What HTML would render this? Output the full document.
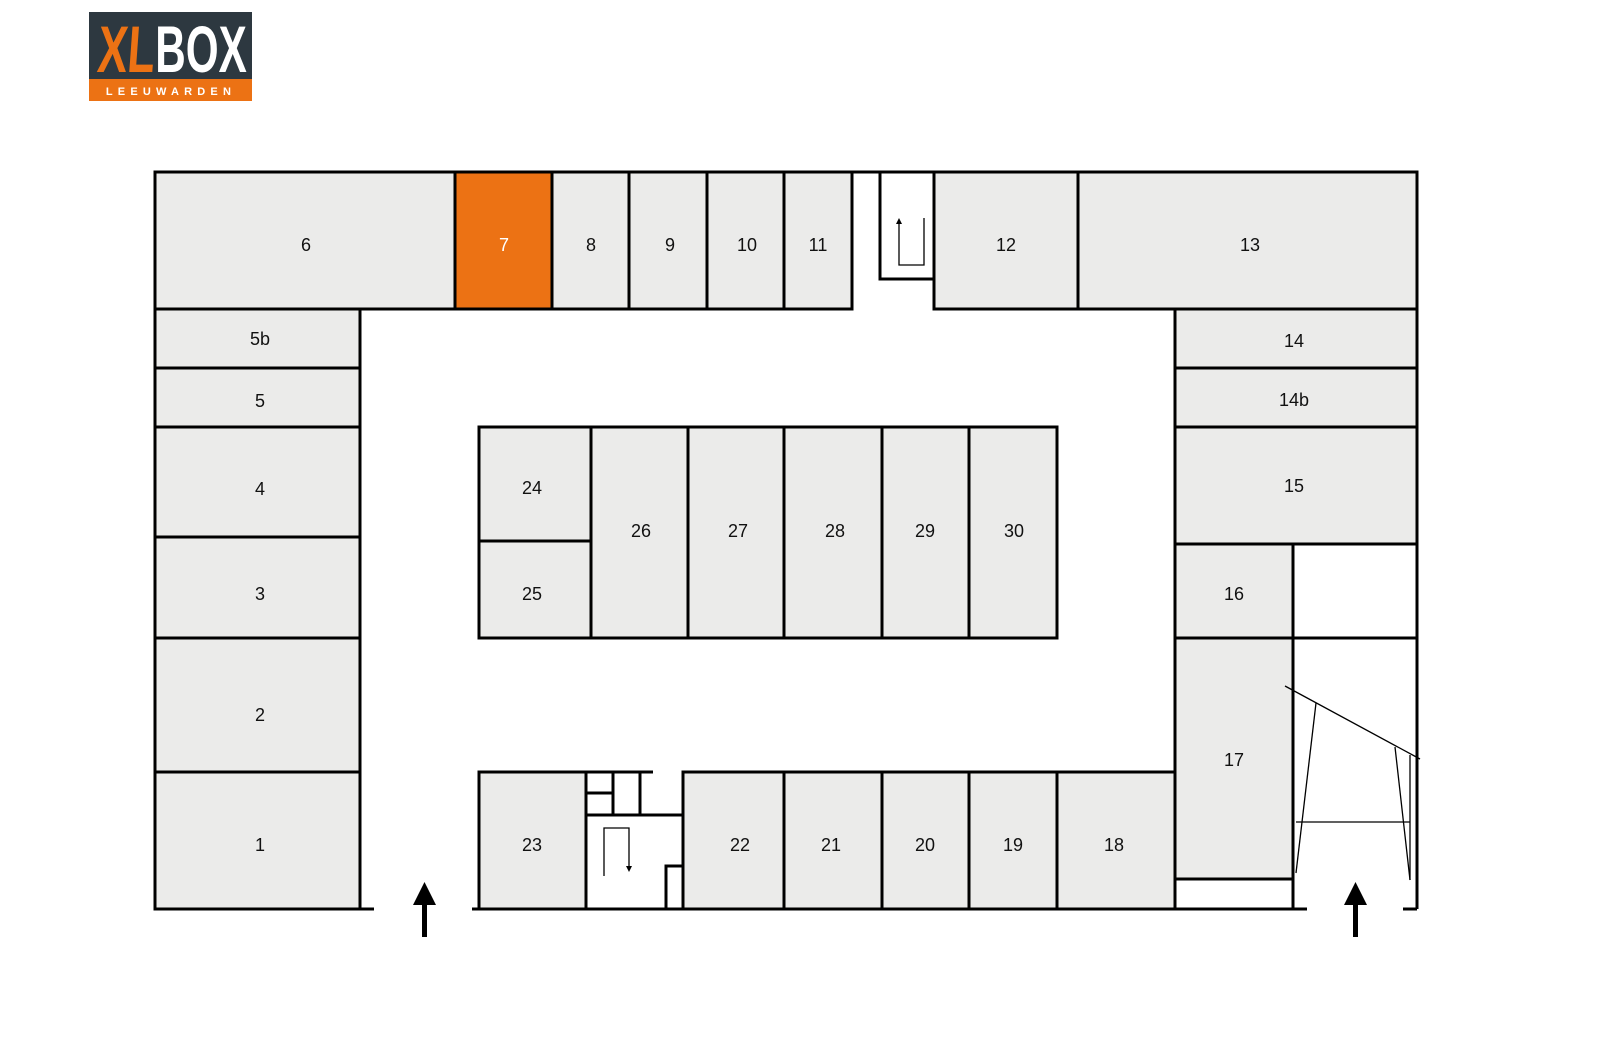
<!DOCTYPE html>
<html><head><meta charset="utf-8"><style>
html,body{margin:0;padding:0;background:#fff;width:1600px;height:1040px;overflow:hidden}
svg{display:block}
text{font-family:"Liberation Sans",sans-serif;font-size:18px;text-anchor:middle;fill:#111}
</style></head><body>
<svg width="1600" height="1040" viewBox="0 0 1600 1040">
<!-- logo -->
<rect x="89" y="12" width="163" height="68" fill="#2d3840"/>
<rect x="89" y="79" width="163" height="22" fill="#ec7214"/>
<text x="0" y="0" transform="translate(125,72) scale(0.68,1) skewX(-6)" style="font-size:66px;font-weight:bold;fill:#ec7214">XL</text>
<text x="0" y="0" transform="translate(201,72) scale(0.64,1)" style="font-size:66px;font-weight:bold;fill:#fff">BOX</text>
<text x="171" y="95" style="font-size:11px;font-weight:bold;fill:#fff;letter-spacing:5.2px">LEEUWARDEN</text>

<g fill="#ebebea" stroke="#000" stroke-width="3">
<line x1="852" y1="172" x2="880" y2="172"/>
<!-- top row -->
<rect x="155" y="172" width="300" height="137"/>
<rect x="455" y="172" width="97" height="137" fill="#ec7214"/>
<rect x="552" y="172" width="77" height="137"/>
<rect x="629" y="172" width="78" height="137"/>
<rect x="707" y="172" width="77" height="137"/>
<rect x="784" y="172" width="68" height="137"/>
<rect x="934" y="172" width="144" height="137"/>
<rect x="1078" y="172" width="339" height="137"/>
<rect x="880" y="172" width="54" height="107" fill="#fff"/>
<!-- left column -->
<rect x="155" y="309" width="205" height="59"/>
<rect x="155" y="368" width="205" height="59"/>
<rect x="155" y="427" width="205" height="110"/>
<rect x="155" y="537" width="205" height="101"/>
<rect x="155" y="638" width="205" height="134"/>
<rect x="155" y="772" width="205" height="137"/>
<!-- right column -->
<rect x="1175" y="309" width="242" height="59"/>
<rect x="1175" y="368" width="242" height="59"/>
<rect x="1175" y="427" width="242" height="117"/>
<rect x="1175" y="544" width="118" height="94"/>
<rect x="1293" y="544" width="124" height="94" fill="#fff"/>
<rect x="1175" y="638" width="118" height="241"/>
<rect x="1175" y="879" width="118" height="30" fill="#fff"/>
<!-- center block -->
<rect x="479" y="427" width="112" height="114"/>
<rect x="479" y="541" width="112" height="97"/>
<rect x="591" y="427" width="97" height="211"/>
<rect x="688" y="427" width="96" height="211"/>
<rect x="784" y="427" width="98" height="211"/>
<rect x="882" y="427" width="87" height="211"/>
<rect x="969" y="427" width="88" height="211"/>
<!-- bottom row -->
<rect x="479" y="772" width="107" height="137"/>
<rect x="586" y="815" width="97" height="94" fill="#fff"/>
<rect x="586" y="772" width="27" height="21" fill="#fff"/>
<rect x="586" y="793" width="27" height="22" fill="#fff"/>
<rect x="613" y="772" width="27" height="43" fill="#fff"/>
<rect x="666" y="866" width="17" height="43" fill="#fff"/>
<rect x="683" y="772" width="101" height="137"/>
<rect x="784" y="772" width="98" height="137"/>
<rect x="882" y="772" width="87" height="137"/>
<rect x="969" y="772" width="88" height="137"/>
<rect x="1057" y="772" width="118" height="137"/>
</g>
<g stroke="#000" stroke-width="3" fill="none">
<line x1="1417" y1="638" x2="1417" y2="909"/>
<line x1="1293" y1="638" x2="1293" y2="909"/>
<line x1="1175" y1="909" x2="1307" y2="909"/>
<line x1="1403" y1="909" x2="1417" y2="909"/>
<line x1="155" y1="909" x2="374" y2="909"/>
<line x1="472" y1="909" x2="1175" y2="909"/>
<line x1="640" y1="772" x2="653" y2="772"/>
</g>
<g stroke="#000" stroke-width="1.3" fill="none">
<line x1="1285" y1="686" x2="1420" y2="759"/>
<line x1="1316" y1="703" x2="1296" y2="873"/>
<line x1="1395" y1="747" x2="1410" y2="880"/>
<line x1="1410" y1="755" x2="1410" y2="880"/>
<line x1="1296" y1="822" x2="1410" y2="822"/>
<polyline points="604,876 604,828 629,828 629,870"/>
<polyline points="899,223 899,265 924,265 924,218"/>
</g>
<path d="M626,866 L632,866 L629,872Z" fill="#000"/>
<path d="M896,224 L902,224 L899,218Z" fill="#000"/>
<!-- entry arrows -->
<g fill="#000">
<rect x="422" y="902" width="5" height="35"/><path d="M413,905 L424.5,882 L436,905Z"/>
<rect x="1353" y="902" width="5" height="35"/><path d="M1344,905 L1355.5,882 L1367,905Z"/>
</g>
<!-- labels -->
<g>
<text x="306" y="251">6</text><text x="504" y="251" style="fill:#fff">7</text>
<text x="591" y="251">8</text><text x="670" y="251">9</text><text x="747" y="251">10</text>
<text x="818" y="251">11</text><text x="1006" y="251">12</text><text x="1250" y="251">13</text>
<text x="260" y="345">5b</text><text x="260" y="407">5</text><text x="260" y="495">4</text>
<text x="260" y="600">3</text><text x="260" y="721">2</text><text x="260" y="851">1</text>
<text x="1294" y="347">14</text><text x="1294" y="406">14b</text><text x="1294" y="492">15</text>
<text x="1234" y="600">16</text><text x="1234" y="766">17</text>
<text x="532" y="494">24</text><text x="532" y="600">25</text>
<text x="641" y="537">26</text><text x="738" y="537">27</text><text x="835" y="537">28</text>
<text x="925" y="537">29</text><text x="1014" y="537">30</text>
<text x="532" y="851">23</text><text x="740" y="851">22</text><text x="831" y="851">21</text>
<text x="925" y="851">20</text><text x="1013" y="851">19</text><text x="1114" y="851">18</text>
</g>
</svg>
</body></html>
